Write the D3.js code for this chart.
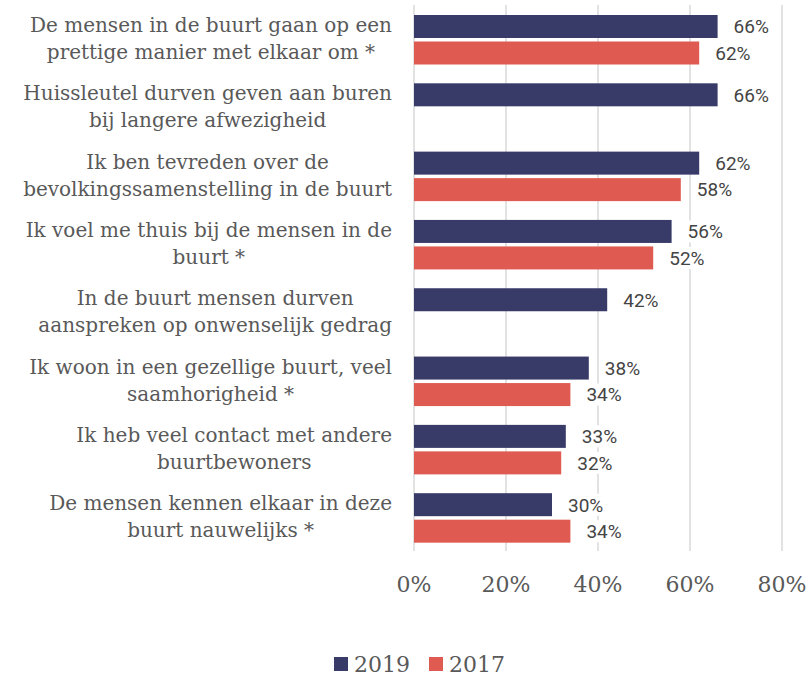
<!DOCTYPE html>
<html>
<head>
<meta charset="utf-8">
<script src="https://cdn.jsdelivr.net/npm/d3@7"></script>
<style>
  body { margin: 0; background: #fff; }
  svg { display: block; }
</style>
</head>
<body>
<svg width="809" height="677"></svg>
<script>
var categories = [
  ["De mensen in de buurt gaan op een", "prettige manier met elkaar om *"],
  ["Huissleutel durven geven aan buren", "bij langere afwezigheid"],
  ["Ik ben tevreden over de", "bevolkingssamenstelling in de buurt"],
  ["Ik voel me thuis bij de mensen in de", "buurt *"],
  ["In de buurt mensen durven", "aanspreken op onwenselijk gedrag"],
  ["Ik woon in een gezellige buurt, veel", "saamhorigheid *"],
  ["Ik heb veel contact met andere", "buurtbewoners"],
  ["De mensen kennen elkaar in deze", "buurt nauwelijks *"]
];
var v2019 = [66, 66, 62, 56, 42, 38, 33, 30];
var v2017 = [62, null, 58, 52, null, 34, 32, 34];
var ticks = [0, 20, 40, 60, 80];
var series = [
  {name: "2019", values: v2019, color: "#383a68"},
  {name: "2017", values: v2017, color: "#df5b51"}
];

var svg = d3.select("svg");
var serif = "'DejaVu Serif', serif";
var sans = "Roboto, 'Open Sans', sans-serif";

var x = d3.scaleLinear().domain([0, 80]).range([414, 782]);
var y = d3.scaleBand().domain(d3.range(categories.length)).range([4.5, 551]);
var barH = 23, gap = 3.5, offTop = 10.5;

// gridlines
svg.append("g").selectAll("line")
  .data(ticks).enter().append("line")
  .attr("x1", function(d) { return x(d); })
  .attr("x2", function(d) { return x(d); })
  .attr("y1", 5).attr("y2", 551)
  .attr("stroke", "#d9d9d9").attr("stroke-width", 1.5);

// bars
series.forEach(function(s, si) {
  var g = svg.append("g");
  var pts = s.values.map(function(v, i) { return {v: v, i: i}; })
    .filter(function(d) { return d.v != null; });
  g.selectAll("rect").data(pts).enter().append("rect")
    .attr("x", x(0))
    .attr("y", function(d) { return y(d.i) + offTop + si * (barH + gap); })
    .attr("width", function(d) { return x(d.v) - x(0); })
    .attr("height", barH)
    .attr("fill", s.color);

  var lab = g.selectAll(".lab").data(pts).enter().append("g").attr("class", "lab")
    .attr("transform", function(d) {
      return "translate(" + (x(d.v) + 16) + "," + (y(d.i) + offTop + si * (barH + gap) + barH / 2) + ")";
    });
  lab.append("rect")
    .attr("x", -4).attr("y", -11).attr("width", 50).attr("height", 22)
    .attr("fill", "#fff");
  lab.append("text")
    .attr("dy", "0.36em")
    .style("font-family", sans).style("font-size", "19px")
    .attr("fill", "#444")
    .text(function(d) { return d.v + "%"; });
});

// category labels: block right-aligned at 392, lines centered inside block
var catG = svg.append("g");
categories.forEach(function(lines, i) {
  var cy = y(i) + y.bandwidth() / 2;
  var t = catG.append("text")
    .style("font-family", serif).style("font-size", "20px")
    .attr("fill", "#595959");
  var spans = lines.map(function(l, j) {
    return t.append("tspan").attr("y", cy + (j - 0.5) * 27 + 7).text(l);
  });
  var widths = spans.map(function(s) { return s.node().getComputedTextLength(); });
  var w = d3.max(widths);
  var center = 392 - w / 2;
  spans.forEach(function(s) { s.attr("x", center).attr("text-anchor", "middle"); });
});

// x axis tick labels
svg.append("g").selectAll("text")
  .data(ticks).enter().append("text")
  .attr("x", function(d) { return x(d); })
  .attr("y", 592)
  .attr("text-anchor", "middle")
  .style("font-family", serif).style("font-size", "22px")
  .attr("fill", "#595959")
  .text(function(d) { return d + "%"; });

// legend
var leg = svg.append("g");
var lx = [334, 429];
series.forEach(function(s, i) {
  leg.append("rect").attr("x", lx[i]).attr("y", 657).attr("width", 14).attr("height", 14).attr("fill", s.color);
  leg.append("text").attr("x", lx[i] + 20).attr("y", 672)
    .style("font-family", serif).style("font-size", "22px")
    .attr("fill", "#595959").text(s.name);
});
</script>
</body>
</html>
